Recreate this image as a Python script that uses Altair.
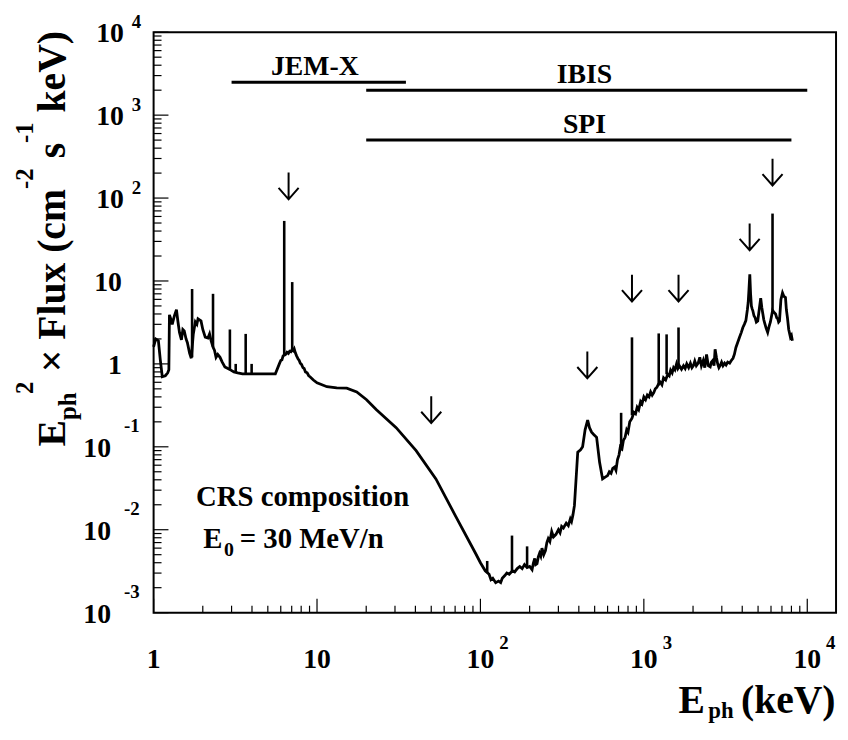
import altair as alt
import pandas as pd

# ---------------- data ----------------
energy_kev = [
    1.00, 1.03, 1.07, 1.10, 1.13, 1.18, 1.22, 1.24, 1.25, 1.28,
    1.30, 1.34, 1.38, 1.41, 1.44, 1.48, 1.51, 1.54, 1.58, 1.61,
    1.66, 1.70, 1.75, 1.80, 1.84, 1.87, 1.91, 1.95, 2.00, 2.07,
    2.15, 2.20, 2.25, 2.31, 2.36, 2.41, 2.47, 2.55, 2.63, 2.73,
    2.85, 2.97, 3.10, 3.27, 3.50, 3.76, 4.20, 4.80, 5.56, 5.88,
    6.00, 6.10, 6.20, 6.30, 6.42, 6.55, 6.68, 6.80, 6.92, 7.05,
    7.15, 7.25, 7.38, 7.50, 7.65, 7.78, 7.90, 8.05, 8.20, 8.34,
    8.50, 8.70, 8.90, 9.06, 9.50, 10.0, 11.5, 13.2, 15.2, 17.5,
    20.1, 23.1, 30.5, 40.4, 53.4, 70.6, 93.3, 100, 107, 113,
    116, 119, 124, 129, 133, 136, 141, 145, 150, 157,
    162, 168, 174, 180, 186, 193, 200, 207, 211, 215,
    218, 222, 226, 230, 234, 238, 244, 250, 255, 260,
    266, 273, 280, 290, 300, 307, 314, 322, 335, 345,
    355, 361, 368, 376, 394, 410, 422, 437, 453, 465,
    479, 495, 514, 536, 559, 580, 600, 615, 630, 645,
    661, 675, 690, 705, 718, 735, 750, 768, 785, 800,
    820, 845, 870, 890, 910, 930, 955, 975, 1000, 1025,
    1050, 1075, 1100, 1125, 1150, 1175, 1200, 1230, 1260, 1290,
    1320, 1360, 1400, 1430, 1458, 1490, 1520, 1550, 1585, 1615,
    1650, 1700, 1748, 1790, 1830, 1880, 1927, 1970, 2010, 2050,
    2095, 2150, 2200, 2250, 2310, 2360, 2420, 2480, 2547, 2590,
    2640, 2690, 2729, 2780, 2830, 2880, 2929, 2990, 3050, 3120,
    3186, 3260, 3350, 3430, 3512, 3580, 3660, 3850, 3950, 4036,
    4120, 4210, 4300, 4350, 4400, 4450, 4500, 4550, 4600, 4642,
    4720, 4800, 4880, 4977, 5080, 5190, 5270, 5350, 5420, 5489,
    5600, 5723, 5830, 5950, 6050, 6136, 6250, 6397, 6500, 6600,
    6680, 6762, 6900, 7055, 7200, 7357, 7450, 7565, 7700, 7888,
    8000, 8110,
]
flux = [
    1.6, 2.0, 1.9, 1.1, 0.70, 0.72, 0.78, 0.85, 3.9, 3.4,
    3.0, 3.8, 4.5, 3.2, 2.4, 1.95, 2.6, 2.5, 2.0, 1.8,
    1.35, 1.17, 2.3, 3.2, 3.0, 3.5, 3.4, 3.3, 2.6, 2.1,
    2.05, 2.3, 1.9, 1.6, 1.45, 1.2, 1.3, 1.2, 1.05, 0.92,
    0.88, 0.84, 0.80, 0.78, 0.76, 0.76, 0.76, 0.76, 0.76, 1.0,
    1.1, 1.12, 1.25, 1.27, 1.3, 1.38, 1.34, 1.42, 1.40, 1.5,
    1.45, 1.52, 1.35, 1.25, 1.15, 1.1, 1.02, 0.98, 0.90, 0.88,
    0.80, 0.78, 0.72, 0.70, 0.64, 0.59, 0.53, 0.515, 0.51, 0.46,
    0.37, 0.28, 0.17, 0.09, 0.041, 0.0145, 0.0052, 0.0040, 0.0032, 0.0029,
    0.0025, 0.0026, 0.0023, 0.0024, 0.0023, 0.0026, 0.0028, 0.0030, 0.0029, 0.0032,
    0.0031, 0.0034, 0.0036, 0.0034, 0.0038, 0.0035, 0.0036, 0.0033, 0.0040, 0.0045,
    0.0038, 0.0039, 0.0047, 0.0052, 0.0048, 0.0060, 0.0050, 0.0056, 0.0070, 0.0078,
    0.0072, 0.0095, 0.0082, 0.0088, 0.0100, 0.0092, 0.0110, 0.0105, 0.0120, 0.0112,
    0.0135, 0.0126, 0.0150, 0.0195, 0.086, 0.092, 0.10, 0.16, 0.21, 0.17,
    0.15, 0.14, 0.13, 0.065, 0.041, 0.043, 0.045, 0.050, 0.048, 0.055,
    0.057, 0.052, 0.070, 0.080, 0.10, 0.095, 0.12, 0.13, 0.16, 0.15,
    0.20, 0.22, 0.26, 0.25, 0.30, 0.28, 0.35, 0.33, 0.40, 0.37,
    0.42, 0.40, 0.46, 0.42, 0.45, 0.50, 0.52, 0.57, 0.60, 0.56,
    0.68, 0.64, 0.75, 0.72, 0.84, 0.78, 0.90, 0.85, 1.0, 0.88,
    0.95, 0.86, 0.95, 0.88, 1.0, 0.90, 1.02, 0.90, 0.95, 1.08,
    0.95, 1.02, 1.2, 0.95, 1.1, 0.90, 1.3, 0.95, 0.92, 1.05,
    1.1, 0.95, 1.5, 1.2, 1.0, 0.90, 0.95, 1.05, 0.95, 1.02,
    0.97, 1.05, 1.02, 1.1, 1.17, 1.3, 1.58, 2.1, 2.4, 2.75,
    3.0, 3.33, 4.5, 5.5, 8.0, 12.0, 7.0, 5.0, 4.6, 4.4,
    3.8, 3.6, 3.2, 3.3, 4.5, 6.2, 4.8, 4.0, 3.4, 3.1,
    2.7, 2.4, 2.8, 3.2, 3.8, 4.4, 4.2, 4.0, 3.6, 3.5,
    3.2, 3.3, 6.0, 7.2, 6.5, 6.3, 4.5, 3.6, 2.6, 2.1,
    2.2, 1.9,
]

# narrow lines: energy, continuum level, peak level
line_energy = [1.72, 2.31, 2.93, 3.18, 3.66, 3.98, 6.3, 7.05,
               110, 156, 193, 726, 846, 1233, 1378, 1630, 6130]
line_base = [1.2, 1.6, 0.85, 0.79, 0.76, 0.76, 1.27, 1.5,
             0.0030, 0.0032, 0.0035, 0.09, 0.24, 0.55, 0.75, 0.97, 4.4]
line_peak = [8.0, 7.0, 2.6, 1.0, 2.3, 1.0, 53, 9.7,
             0.0042, 0.0085, 0.0063, 0.257, 2.09, 2.33, 2.27, 2.75, 65]

# arrows
arrow_energy = [6.7, 50, 451, 846, 1630, 4440, 6130]
arrow_flux = [140, 0.28, 0.97, 8.2, 8.2, 34, 206]

# instrument ranges
instruments = ["JEM-X", "IBIS", "SPI"]
inst_start = [3, 20, 20]
inst_end = [35, 10000, 8000]
inst_level = [2500, 2000, 500]
inst_label_e = [9.7, 433, 433]

# tick values / labels
x_major = [1, 10, 100, 1000, 10000]
x_minor = [m * 10 ** k for k in range(4) for m in range(2, 10)]
y_major = [10.0 ** k for k in range(-3, 5)]
y_minor = [m * 10.0 ** k for k in range(-3, 4) for m in range(2, 10)]
x_base_vals = [1, 10, 100, 1000, 10000]
x_base_text = ["1", "10", "10", "10", "10"]
x_exp_vals = [100, 1000, 10000]
x_exp_text = ["2", "3", "4"]
y_plain_vals = [1, 10]
y_plain_text = ["1", "10"]
y_pos_vals = [100, 1000, 10000]
y_pos_text = ["2", "3", "4"]
y_neg_vals = [0.1, 0.01, 0.001]
y_neg_text = ["-1", "-2", "-3"]

# annotation anchors (data coordinates)
crs_text = ["CRS composition"]
crs_e, crs_f = [1.82], [0.0195]
e0_e, e0_f = [2.01], [0.00597]

# ---------------- chart ----------------
FONT = "Liberation Serif"
W, H = 689, 586
xs = alt.Scale(type="log", domain=[1, 15000], nice=False)
ys = alt.Scale(type="log", domain=[0.001, 10000], nice=False)


def X(f):
    return alt.X(f, type="quantitative", scale=xs, axis=None)


def Y(f):
    return alt.Y(f, type="quantitative", scale=ys, axis=None)


one = pd.DataFrame({"a": [0]})

spec = alt.Chart(pd.DataFrame({"E": energy_kev, "F": flux})).mark_line(
    color="black", strokeWidth=2.8
).encode(x=X("E"), y=Y("F"))

spikes = alt.Chart(pd.DataFrame({"E": line_energy, "lo": line_base, "hi": line_peak})).mark_rule(
    color="black", strokeWidth=2.6
).encode(x=X("E"), y=Y("lo"), y2="hi")

inst_df = pd.DataFrame({"name": instruments, "x1": inst_start, "x2": inst_end,
                        "lvl": inst_level, "xc": inst_label_e})
bars = alt.Chart(inst_df).mark_rule(color="black", strokeWidth=3).encode(
    x=X("x1"), x2="x2", y=Y("lvl"))
bar_txt = alt.Chart(inst_df).mark_text(
    font=FONT, fontSize=28, fontWeight="bold", align="center", baseline="alphabetic", dy=-7
).encode(x=X("xc"), y=Y("lvl"), text="name")

ARROW = "M0,-1L0,1M-0.75,0.15L0,1L0.75,0.15"
arrows = alt.Chart(pd.DataFrame({"E": arrow_energy, "F": arrow_flux})).mark_point(
    shape=ARROW, size=729, filled=False, stroke="black", strokeWidth=2, opacity=1
).encode(x=X("E"), y=Y("F"))

crs = alt.Chart(pd.DataFrame({"E": crs_e, "F": crs_f, "t": crs_text})).mark_text(
    font=FONT, fontSize=29, fontWeight="bold", align="left", baseline="alphabetic"
).encode(x=X("E"), y=Y("F"), text="t")
e0_df = pd.DataFrame({"E": e0_e, "F": e0_f})
e0_main = alt.Chart(e0_df).mark_text(
    font=FONT, fontSize=29, fontWeight="bold", align="left", baseline="alphabetic", text="E"
).encode(x=X("E"), y=Y("F"))
e0_sub = alt.Chart(e0_df).mark_text(
    font=FONT, fontSize=20, fontWeight="bold", align="left", baseline="alphabetic",
    text="0", dx=21, dy=8
).encode(x=X("E"), y=Y("F"))
e0_rest = alt.Chart(e0_df).mark_text(
    font=FONT, fontSize=29, fontWeight="bold", align="left", baseline="alphabetic",
    text="= 30 MeV/n", dx=37
).encode(x=X("E"), y=Y("F"))


def xticks(vals, L):
    return alt.Chart(pd.DataFrame({"v": vals})).mark_rule(color="black", strokeWidth=1.2).encode(
        x=X("v"), y=alt.value(H), y2=alt.value(H - L))


def yticks(vals, L):
    return alt.Chart(pd.DataFrame({"v": vals})).mark_rule(color="black", strokeWidth=1.2).encode(
        y=Y("v"), x=alt.value(0), x2=alt.value(L))


def lab(vals, texts, enc_x, size, align, dx=0, dy=0, xaxis=True, ypix=0):
    df = pd.DataFrame({"v": vals, "t": texts})
    m = alt.Chart(df).mark_text(font=FONT, fontSize=size, fontWeight="bold", align=align,
                                baseline="alphabetic", dx=dx, dy=dy)
    if xaxis:
        return m.encode(x=X("v"), y=alt.value(ypix), text="t")
    return m.encode(y=Y("v"), x=alt.value(enc_x), text="t")


x_lab_base = lab(x_base_vals, x_base_text, 0, 28, "center", ypix=H + 56)
x_lab_exp = lab(x_exp_vals, x_exp_text, 0, 19, "left", dx=19, ypix=H + 37)
y_lab_plain = lab(y_plain_vals, y_plain_text, -32, 28, "right", dy=10, xaxis=False)
y_lab_pos = lab(y_pos_vals, ["10"] * 3, -30, 28, "right", dy=10, xaxis=False)
y_lab_pos_e = lab(y_pos_vals, y_pos_text, -22, 19, "left", dy=-4, xaxis=False)
y_lab_neg = lab(y_neg_vals, ["10"] * 3, -43, 28, "right", dy=10, xaxis=False)
y_lab_neg_e = lab(y_neg_vals, y_neg_text, -30, 19, "left", dy=-15, xaxis=False)


def ptext(t, x, y, size, angle=0):
    kw = dict(font=FONT, fontSize=size, fontWeight="bold", align="left",
              baseline="alphabetic", text=t)
    if angle:
        kw["angle"] = angle
    return alt.Chart(one).mark_text(**kw).encode(x=alt.value(x), y=alt.value(y))


ytitle = [
    ptext("E", -89, 418.3, 40, 270),
    ptext("ph", -78, 391.6, 25, 270),
    ptext("2", -122, 365.3, 25, 270),
    ptext("\u00d7 Flux (cm", -89, 343.3, 40, 270),
    ptext("-2", -122, 158.3, 25, 270),
    ptext("s", -89, 127.3, 40, 270),
    ptext("-1", -122, 111.8, 25, 270),
    ptext("keV)", -89, 81, 40, 270),
]
xtitle = [
    ptext("E", 530, 687.3, 40),
    ptext("ph", 560, 692.3, 23),
    ptext("(keV)", 593, 687.3, 40),
]

layers = [
    xticks(x_minor, 7), xticks(x_major, 14), yticks(y_minor, 8), yticks(y_major, 15),
    spec, spikes, bars, bar_txt, arrows, crs, e0_main, e0_sub, e0_rest,
    x_lab_base, x_lab_exp, y_lab_plain, y_lab_pos, y_lab_pos_e, y_lab_neg, y_lab_neg_e,
] + ytitle + xtitle

chart = alt.layer(*layers).properties(
    width=W, height=H,
    autosize=alt.AutoSizeParams(type="none"),
    padding={"left": 147, "top": 21, "right": 4, "bottom": 112},
    background="white",
).configure_view(stroke="black", strokeWidth=2)

chart.save("out.html", embed_options={"renderer": "svg", "actions": False})
